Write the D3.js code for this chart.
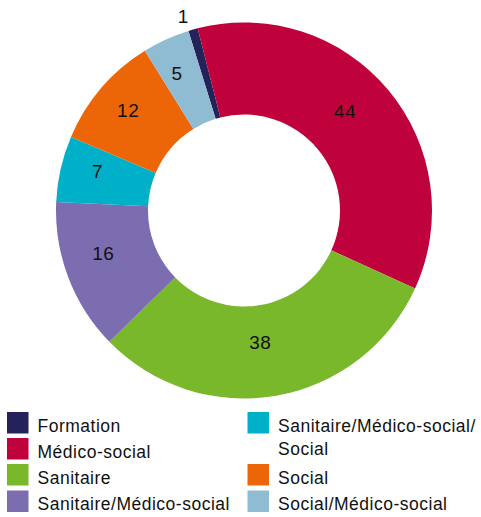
<!DOCTYPE html>
<html><head><meta charset="utf-8">
<script src="https://cdn.jsdelivr.net/npm/d3@7"></script>
<style>body{margin:0;background:#fff}svg{display:block}</style>
</head><body>
<svg id="c" width="481" height="517"></svg>
<script>
const categories = ["Formation","Médico-social","Sanitaire","Sanitaire/Médico-social","Sanitaire/Médico-social/Social","Social","Social/Médico-social"];
const values = [1,44,38,16,7,12,5];
const colors = ["#25215b","#c0023c","#78b82a","#7c6db1","#00afc8","#ec6608","#8fbbd3"];
const legendLines = [["Formation"],["Médico-social"],["Sanitaire"],["Sanitaire/Médico-social"],["Sanitaire/Médico-social/","Social"],["Social"],["Social/Médico-social"]];

const svg = d3.select("#c");
const cx = 244, cy = 210.5, R = 188, r0 = 96;
const start = -17.2 * Math.PI / 180;
const pie = d3.pie().sort(null).value(d => d).startAngle(start).endAngle(start + 2*Math.PI);
const arcs = pie(values);
const arc = d3.arc().innerRadius(r0).outerRadius(R);
const labelArc = d3.arc().innerRadius(142).outerRadius(142);
const outArc = d3.arc().innerRadius(194).outerRadius(194);
const font = "'Liberation Sans', Arial, sans-serif";
const g = svg.append("g").attr("transform", `translate(${cx},${cy})`);
g.selectAll("path").data(arcs).enter().append("path")
  .attr("d", arc).attr("fill", (d,i) => colors[i]);
g.selectAll("text").data(arcs).enter().append("text")
  .attr("transform", d => {
    const small = (d.endAngle - d.startAngle) < 0.1;
    const p = (small ? outArc : labelArc).centroid(d);
    return `translate(${p[0]-8},${p[1]-8})`;
  })
  .attr("text-anchor","middle").attr("dy","0.36em")
  .style("font-family",font).style("font-size","19px").style("letter-spacing","0.6px").attr("fill","#111")
  .text(d => d.data);

const fs = 17.5;
const colX = [7, 247.5];
const rowY = [412, 438, 464, 490.5];
const positions = [[0,0],[0,1],[0,2],[0,3],[1,0],[1,2],[1,3]];
const lg = svg.append("g");
categories.forEach((c,i) => {
  const [col,row] = positions[i];
  const x = colX[col], y = rowY[row];
  lg.append("rect").attr("x", x).attr("y", y).attr("width", 21.5).attr("height", 21.5).attr("fill", colors[i]);
  legendLines[i].forEach((t,j) => {
    lg.append("text").attr("x", x + 30.5).attr("y", y + 19.5 + j*23.5)
      .style("font-family", font).style("font-size", fs + "px").style("letter-spacing","0.5px")
      .attr("fill","#111").text(t);
  });
});
</script>
</body></html>
